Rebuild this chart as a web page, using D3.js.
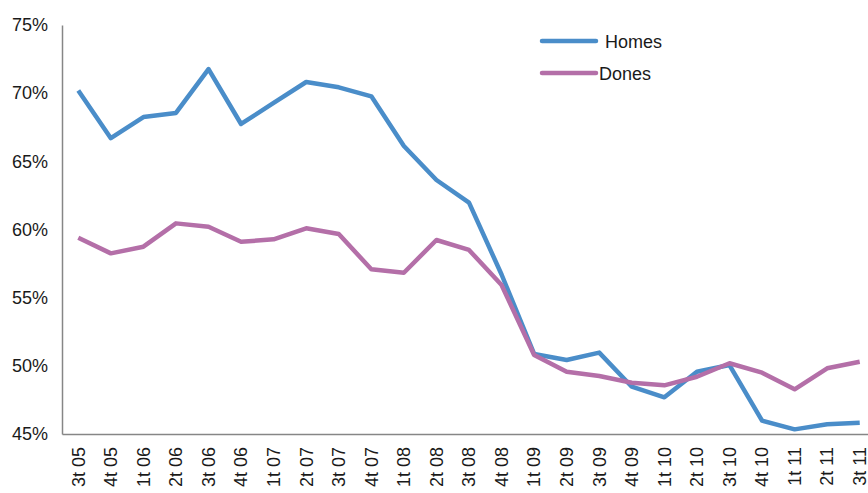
<!DOCTYPE html>
<html><head><meta charset="utf-8">
<script src="https://cdn.jsdelivr.net/npm/d3@7"></script>
<style>body{margin:0;background:#fff;overflow:hidden}svg{display:block}</style>
</head><body><svg id="c" width="868" height="493"></svg>
<script>
const categories = ["3t 05","4t 05","1t 06","2t 06","3t 06","4t 06","1t 07","2t 07","3t 07","4t 07","1t 08","2t 08","3t 08","4t 08","1t 09","2t 09","3t 09","4t 09","1t 10","2t 10","3t 10","4t 10","1t 11","2t 11","3t 11"];
const homes = [70.2,66.7,68.25,68.55,71.77,67.74,69.28,70.82,70.43,69.77,66.12,63.63,61.97,56.7,50.87,50.43,50.97,48.47,47.69,49.57,50.06,45.98,45.34,45.71,45.83];
const dones = [59.4,58.25,58.74,60.45,60.2,59.1,59.28,60.09,59.67,57.08,56.83,59.23,58.5,55.93,50.8,49.57,49.25,48.76,48.57,49.2,50.19,49.5,48.28,49.82,50.3];
const yTicks = [45,50,55,60,65,70,75];
const seriesNames = ["Homes","Dones"];
const colors = ["#4a8dc9","#b46fa8"];

const svg = d3.select("#c");
const font = "'Liberation Sans', Arial, sans-serif";
const x = d3.scaleBand().domain(categories).range([62, 62 + 25*32.56]);
const y = d3.scaleLinear().domain([45,75]).range([434,25]);

// y axis
const ya = svg.append("g").attr("transform","translate(62,0)")
  .call(d3.axisLeft(y).tickValues(yTicks).tickSize(0).tickPadding(14).tickFormat(d=>d+"%"));
ya.select(".domain").attr("stroke","#868686").attr("stroke-width",1.5);
ya.selectAll("text").attr("font-family",font).attr("font-size",18).attr("fill","#1a1a1a");

// x axis
const xa = svg.append("g").attr("transform","translate(0,434)")
  .call(d3.axisBottom(x).tickSize(0).tickPadding(0));
xa.select(".domain").attr("stroke","#868686").attr("stroke-width",1.5);
xa.selectAll("text").attr("font-family",font).attr("font-size",18).attr("fill","#1a1a1a")
  .attr("transform","rotate(-90)").attr("text-anchor","end").attr("dy","0.35em").attr("x",-13).attr("y",0);

const line = d3.line().x((d,i)=>x(categories[i])+x.bandwidth()/2).y(d=>y(d));
[homes,dones].forEach((s,k)=>{
  svg.append("path").datum(s).attr("d",line).attr("fill","none")
    .attr("stroke",colors[k]).attr("stroke-width",4.5).attr("stroke-linejoin","round");
});

// legend
const lg = [{y:41,tx:605},{y:73,tx:599}];
seriesNames.forEach((n,k)=>{
  svg.append("line").attr("x1",542).attr("x2",596).attr("y1",lg[k].y).attr("y2",lg[k].y)
    .attr("stroke",colors[k]).attr("stroke-width",4.5).attr("stroke-linecap","round");
  svg.append("text").attr("x",lg[k].tx).attr("y",lg[k].y+1).attr("dy","0.35em")
    .attr("font-family",font).attr("font-size",18).attr("fill","#1a1a1a").text(n);
});
</script></body></html>
